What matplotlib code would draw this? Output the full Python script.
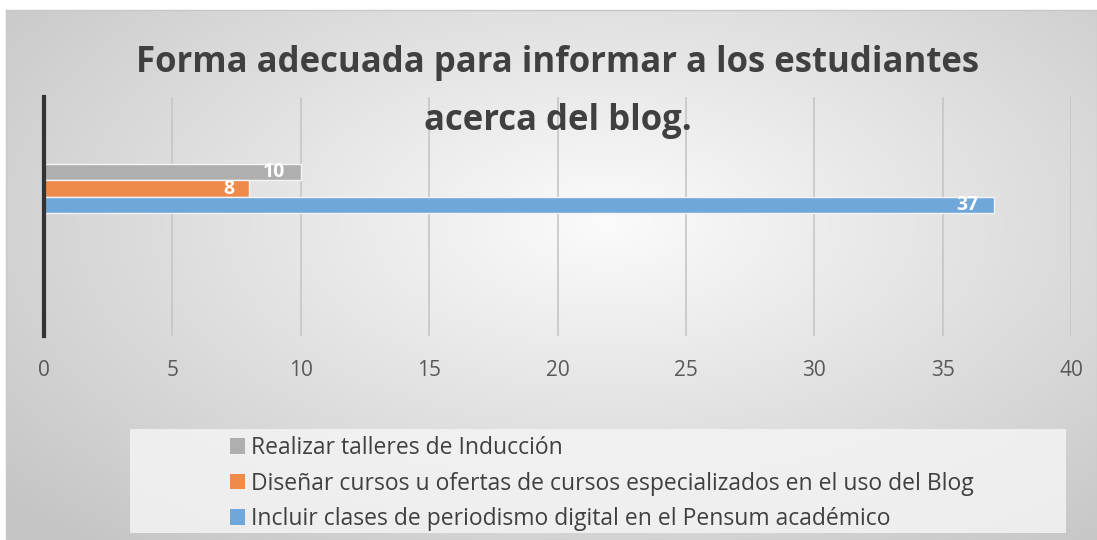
import numpy as np
import matplotlib
matplotlib.use("Agg")
from matplotlib import pyplot as plt
from matplotlib.patches import Rectangle

# Datos
series = ['Realizar talleres de Inducción',
          'Diseñar cursos u ofertas de cursos especializados en el uso del Blog',
          'Incluir clases de periodismo digital en el Pensum académico']
valores = [10, 8, 37]
colores = ['#afafaf', '#ee8b4a', '#6fa7da']
ticks = [0, 5, 10, 15, 20, 25, 30, 35, 40]
titulo = 'Forma adecuada para informar a los estudiantes\nacerca del blog.'

plt.rcParams['font.family'] = ['Open Sans', 'DejaVu Sans']

W, H = 1097, 540
fig = plt.figure(figsize=(W / 100, H / 100), dpi=100)
fig.patch.set_facecolor('white')

# Fondo con degradado radial
bg = fig.add_axes([6 / W, 0, 1 - 6 / W, 530 / H])
yy, xx = np.mgrid[0:1:300j, 0:1:600j]
r = np.sqrt(((xx - 0.55) * 1.0) ** 2 + ((yy - 0.6) * 0.9) ** 2)
r = np.clip(r / 0.72, 0, 1)
g = 0.985 - 0.21 * r
bg.imshow(np.dstack([g, g, g]), aspect='auto', extent=[0, 1, 0, 1], origin='lower')
bg.set_xticks([])
bg.set_yticks([])
for s in bg.spines.values():
    s.set_color('#c8c8c8')
    s.set_linewidth(1)

ax = fig.add_axes([44 / W, 1 - 336 / H, (1071 - 44) / W, (336 - 97) / H])
ax.patch.set_alpha(0)

alto = 0.2
posiciones = [alto, 0, -alto]
for pos, v, c, lab in zip(posiciones, valores, colores, series):
    ax.barh(pos, v, height=alto, color=c, edgecolor='#f4f4f4', linewidth=1.0, label=lab, zorder=3)
    ax.text(v - 0.6, pos - 0.005, str(v), ha='right', va='center', color='white',
            fontsize=14, fontweight='bold', zorder=4)

ax.set_xlim(0, 40)
ax.set_ylim(-1.81, 1.12)
ax.set_xticks(ticks)
ax.set_yticks([])
ax.grid(axis='x', color='#c6c6c6', linewidth=1.2, zorder=0)
ax.tick_params(axis='x', length=0, pad=17, labelsize=15, labelcolor='#595959')
for s in ['top', 'right', 'bottom']:
    ax.spines[s].set_visible(False)
ax.spines['left'].set_color('#333333')
ax.spines['left'].set_linewidth(3)
ax.spines['left'].set_zorder(5)

fig.text(558 / W, 1 - 92 / H, titulo, ha='center', va='center', fontsize=25,
         fontweight='bold', color='#404040', linespacing=1.8)

# Caja de la leyenda
fig.patches.append(Rectangle((130 / W, 1 - 533 / H), (1066 - 130) / W, (533 - 429) / H,
                             transform=fig.transFigure, facecolor='#f4f4f4', alpha=0.85,
                             edgecolor='none', zorder=1))

handles, labels = ax.get_legend_handles_labels()
leg = fig.legend(handles, labels, loc='upper left', bbox_to_anchor=(213 / W, 1 - 419 / H),
                 frameon=False, fontsize=16.5, labelcolor='#404040', handlelength=0.65,
                 handleheight=0.65, handletextpad=0.25, labelspacing=0.5, borderpad=0.25)
for h in leg.legend_handles:
    h.set_edgecolor('none')

fig.savefig('out.png', dpi=100)
plt.close()
